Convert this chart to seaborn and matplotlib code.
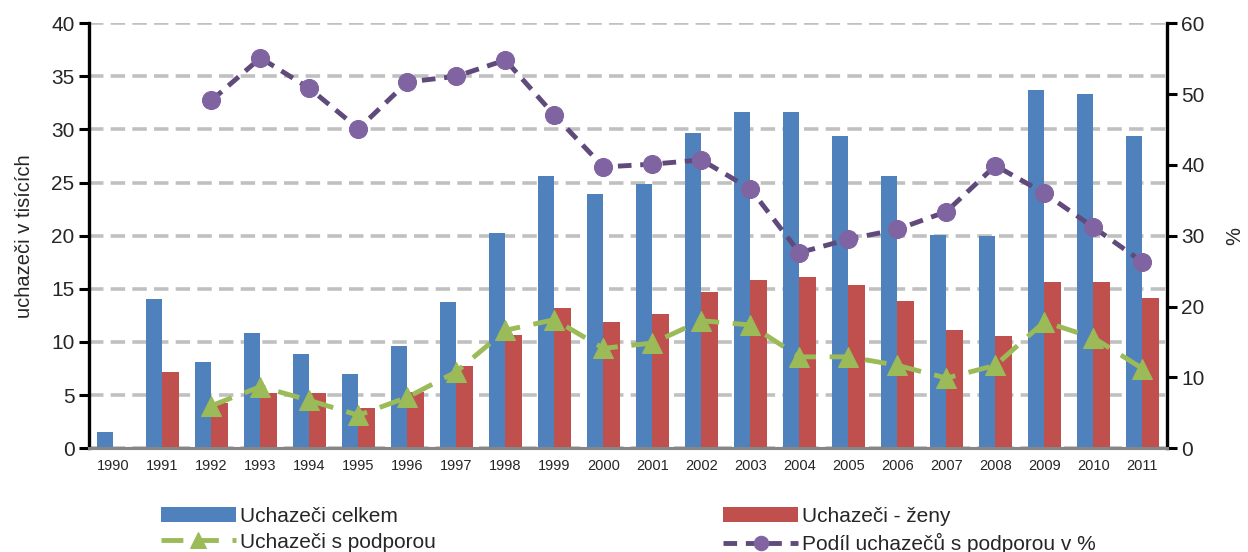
import matplotlib
matplotlib.use('Agg')
import matplotlib.pyplot as plt
import seaborn as sns
import pandas as pd
import numpy as np

# --
# Data

roky = list(range(1990, 2012))
celkem = [1.5, 14.0, 8.1, 10.8, 8.9, 7.0, 9.6, 13.8, 20.3, 25.6, 23.9, 24.9,
          29.7, 31.6, 31.6, 29.4, 25.6, 20.1, 20.0, 33.7, 33.3, 29.4]
zeny = [np.nan, 7.2, 4.3, 5.2, 5.2, 3.8, 5.3, 7.7, 10.7, 13.2, 11.9, 12.6,
        14.7, 15.8, 16.1, 15.4, 13.9, 11.1, 10.6, 15.6, 15.6, 14.1]

roky_podpora = list(range(1992, 2012))
s_podporou = [4.0, 5.8, 4.5, 3.1, 4.8, 7.2, 11.1, 12.1, 9.4, 9.9,
              12.0, 11.6, 8.6, 8.6, 7.8, 6.6, 7.8, 11.9, 10.4, 7.5]
podil = [49.1, 55.1, 50.8, 45.1, 51.7, 52.5, 54.8, 47.0, 39.7, 40.1,
         40.7, 36.6, 27.6, 29.5, 30.9, 33.4, 39.9, 36.0, 31.2, 26.3]

serie = ['Uchazeči celkem', 'Uchazeči - ženy']

# --
# Style

sns.set_style('white')
plt.rcParams['font.family'] = ['Liberation Sans', 'DejaVu Sans']

df = pd.DataFrame({
    'rok': roky * 2,
    'hodnota': celkem + zeny,
    'serie': [serie[0]] * len(roky) + [serie[1]] * len(roky),
})

fig = plt.figure(figsize=(12.48, 5.52), dpi=100)
ax = fig.add_axes([0.0713, 0.188, 0.8637, 0.770])

sns.barplot(data=df, x='rok', y='hodnota', hue='serie', hue_order=serie,
            palette=['#4F81BD', '#C0504D'], saturation=1, native_scale=True,
            width=0.68, linewidth=0, ax=ax, zorder=2)
leg = ax.get_legend()
bar_handles = list(leg.legend_handles)
leg.remove()

sns.lineplot(x=roky_podpora, y=s_podporou, ax=ax, color='#9BBB59',
             linestyle=(0, (4.5, 2.8)), lw=3.5, marker='^', markersize=15,
             markerfacecolor='#9BBB59', markeredgecolor='#9BBB59',
             legend=False, zorder=4)
green_line = ax.lines[-1]

ax2 = ax.twinx()
sns.lineplot(x=roky_podpora, y=podil, ax=ax2, color='#5F4A7B',
             linestyle=(0, (2.8, 1.8)), lw=3.5, marker='o', markersize=13,
             markerfacecolor='#8064A2', markeredgecolor='#8064A2',
             legend=False, zorder=4)
purple_line = ax2.lines[-1]

# --
# Axes

ax.set_xlim(1989.5, 2011.5)
ax.set_ylim(0, 40)
ax2.set_ylim(0, 60)
ax.set_yticks(np.arange(0, 41, 5))
ax2.set_yticks(np.arange(0, 61, 10))

ax.set_xticks(roky)
ax.set_xticklabels([str(r) for r in roky], fontsize=10.5)
ax.set_xticks(np.arange(1989.5, 2012, 1), minor=True)
ax.tick_params(axis='x', which='major', length=0, pad=8)
ax.tick_params(axis='x', which='minor', length=6, width=2.2, color='#868686',
               direction='out')
ax.tick_params(axis='y', length=7, width=2.2, color='black', labelsize=15,
               direction='out', left=True)
ax2.tick_params(axis='y', length=7, width=2.2, color='black', labelsize=15,
                direction='out', right=True)

ax.set_xlabel('')
ax.set_ylabel('uchazeči v tisících', fontsize=14.5, labelpad=12)
ax2.set_ylabel('%', fontsize=14.5, labelpad=15)

ax.yaxis.grid(True, linestyle=(0, (4, 2)), linewidth=2.6, color='#C0C0C0', zorder=0)
ax.set_axisbelow(True)

for a in (ax, ax2):
    a.spines['top'].set_visible(False)
    a.spines['left'].set_color('black')
    a.spines['left'].set_linewidth(2.4)
    a.spines['right'].set_color('black')
    a.spines['right'].set_linewidth(2.4)
    a.spines['bottom'].set_color('#868686')
    a.spines['bottom'].set_linewidth(2.2)
ax.spines['right'].set_visible(False)
ax2.spines['left'].set_visible(False)

# --
# Legend below

handles = [bar_handles[0], green_line, bar_handles[1], purple_line]
labels = [serie[0], 'Uchazeči s podporou', serie[1], 'Podíl uchazečů s podporou v %']
fig.legend(handles, labels, ncol=2, loc='lower left',
           bbox_to_anchor=(0.117, -0.03), frameon=False, fontsize=15,
           handlelength=3.6, handleheight=0.75, handletextpad=0.2,
           columnspacing=13.8, labelspacing=0.35, borderpad=0.2,
           markerscale=0.8)

fig.savefig('out.png', dpi=100)
